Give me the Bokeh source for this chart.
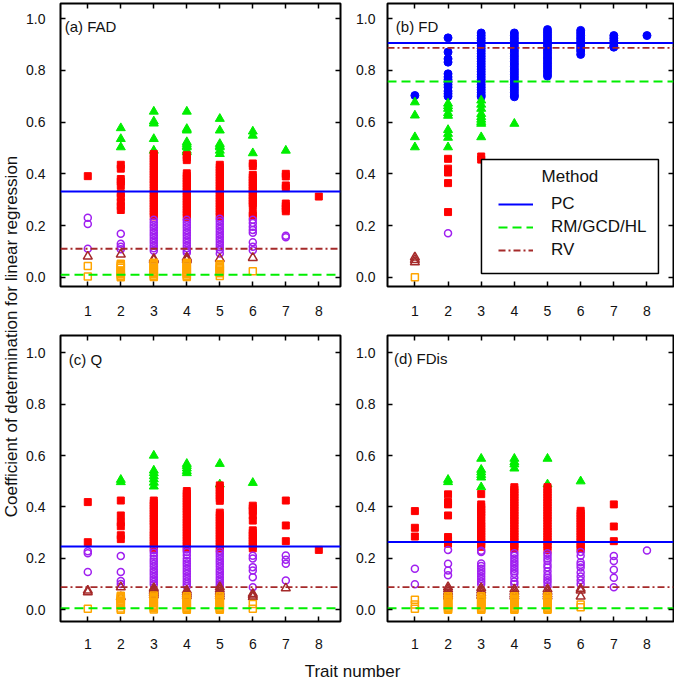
import math
from bokeh.plotting import figure
from bokeh.layouts import row, column
from bokeh.models import (Range1d, FixedTicker, LinearAxis, Label,
                          Legend, LegendItem, BoxAnnotation)
from bokeh.core.properties import value
from bokeh.embed import file_html
from bokeh.resources import INLINE

FONT = "Liberation Sans"

trait_ticks = [1, 2, 3, 4, 5, 6, 7, 8]
r2_ticks = [0.0, 0.2, 0.4, 0.6, 0.8, 1.0]
r2_labels = ["0.0", "0.2", "0.4", "0.6", "0.8", "1.0"]
method_names = ["PC", "RM/GCD/HL", "RV"]
panel_titles = ["(a) FAD", "(b) FD", "(c) Q", "(d) FDis"]
x_title = "Trait number"
y_title = "Coefficient of determination for linear regression"

# reference lines per panel: PC, RM/GCD/HL, RV
fad_lines = [0.332, 0.009, 0.110]
fd_lines = [0.906, 0.757, 0.887]
q_lines = [0.246, 0.006, 0.088]
fdis_lines = [0.264, 0.006, 0.088]

# ---------------- (a) FAD ----------------
fad_blue = {}
fad_green = {2: [0.577, 0.535, 0.503], 3: [0.641, 0.603, 0.595, 0.535, 0.49],
             4: [0.641, 0.574, 0.568, 0.523, 0.516, 0.508, 0.503, 0.49, 0.484],
             5: [0.613, 0.568, 0.516, 0.508, 0.503, 0.49, 0.477], 6: [0.564, 0.548, 0.48], 7: [0.49]}
fad_red = {1: [0.391],
           2: [0.435, 0.42, 0.38, 0.37, 0.355, 0.325, 0.31, 0.29, 0.275, 0.26],
           3: [0.477, 0.468, 0.458, 0.448, 0.438, 0.428, 0.418, 0.408, 0.398, 0.388, 0.378, 0.368, 0.358,
               0.345, 0.335, 0.325, 0.315, 0.305, 0.295, 0.285, 0.275, 0.265, 0.255, 0.245, 0.235],
           4: [0.472, 0.463, 0.453, 0.402, 0.392, 0.382, 0.372, 0.362, 0.352, 0.342, 0.332, 0.322, 0.312,
               0.302, 0.292, 0.282, 0.272, 0.262, 0.252, 0.242, 0.232],
           5: [0.435, 0.425, 0.415, 0.405, 0.395, 0.385, 0.375, 0.365, 0.355, 0.345, 0.335, 0.325, 0.315,
               0.305, 0.295, 0.285, 0.275, 0.265, 0.255, 0.245, 0.235],
           6: [0.44, 0.43, 0.396, 0.386, 0.376, 0.366, 0.356, 0.346, 0.336, 0.326, 0.316, 0.306, 0.296,
               0.286, 0.276, 0.248, 0.238],
           7: [0.40, 0.39, 0.355, 0.345, 0.285, 0.275, 0.265, 0.255],
           8: [0.312]}
fad_purple = {1: [0.23, 0.206, 0.11], 2: [0.168, 0.129, 0.118, 0.108],
              3: [0.222, 0.212, 0.202, 0.192, 0.182, 0.172, 0.162, 0.152, 0.142, 0.132, 0.122, 0.112, 0.102],
              4: [0.222, 0.212, 0.202, 0.192, 0.182, 0.172, 0.162, 0.152, 0.142, 0.132, 0.122, 0.112, 0.102, 0.095],
              5: [0.226, 0.216, 0.206, 0.196, 0.186, 0.176, 0.166, 0.156, 0.146, 0.136, 0.126, 0.116, 0.106, 0.092],
              6: [0.222, 0.21, 0.195, 0.183, 0.172, 0.135, 0.118, 0.104],
              7: [0.16, 0.155]}
fad_brown = {1: [0.08], 2: [0.088], 3: [0.071, 0.066], 4: [0.076, 0.071, 0.066], 5: [0.071], 6: [0.075]}
fad_orange = {1: [0.043, 0.003],
              2: [0.052, 0.047, 0.042, 0.037, 0.026, 0.021, 0.016, 0.011, 0.006, 0.0],
              3: [0.056, 0.051, 0.046, 0.041, 0.036, 0.031, 0.026, 0.021, 0.016, 0.011, 0.006, 0.001],
              4: [0.056, 0.051, 0.046, 0.041, 0.036, 0.031, 0.026, 0.021, 0.016, 0.011, 0.006, 0.001],
              5: [0.05, 0.045, 0.04, 0.035, 0.03, 0.025, 0.02, 0.015, 0.005], 6: [0.023]}

# ---------------- (b) FD ----------------
fd_blue = {1: [0.703],
           2: [0.926, 0.871, 0.845, 0.832, 0.787, 0.775, 0.765, 0.755, 0.745, 0.735, 0.72, 0.71, 0.70],
           3: [0.945, 0.935, 0.925, 0.915, 0.905, 0.895, 0.885, 0.875, 0.865, 0.855, 0.845, 0.835, 0.825,
               0.815, 0.805, 0.795, 0.785, 0.775, 0.765, 0.755, 0.745, 0.735, 0.725, 0.715, 0.705, 0.698],
           4: [0.945, 0.935, 0.925, 0.915, 0.905, 0.895, 0.885, 0.875, 0.865, 0.855, 0.845, 0.835, 0.825,
               0.815, 0.805, 0.795, 0.785, 0.775, 0.765, 0.755, 0.745, 0.735, 0.725, 0.715, 0.705, 0.698],
           5: [0.958, 0.948, 0.938, 0.928, 0.918, 0.908, 0.898, 0.888, 0.878, 0.868, 0.858, 0.848, 0.838,
               0.828, 0.818, 0.808, 0.798, 0.788, 0.778],
           6: [0.955, 0.945, 0.935, 0.925, 0.915, 0.905, 0.895, 0.885, 0.875, 0.862],
           7: [0.935, 0.925, 0.915, 0.905, 0.895, 0.89],
           8: [0.935]}
fd_green = {1: [0.677, 0.626, 0.542, 0.503],
            2: [0.672, 0.662, 0.652, 0.635, 0.625, 0.57, 0.555, 0.54, 0.503],
            3: [0.684, 0.668, 0.652, 0.632, 0.62, 0.61, 0.601, 0.594, 0.542],
            4: [0.594]}
fd_red = {2: [0.458, 0.42, 0.405, 0.364, 0.252], 3: [0.467, 0.455]}
fd_purple = {2: [0.17]}
fd_brown = {1: [0.077, 0.067, 0.058]}
fd_orange = {1: [0.0]}

# ---------------- (c) Q ----------------
q_blue = {}
q_green = {2: [0.506, 0.497], 3: [0.60, 0.542, 0.532, 0.52, 0.508, 0.495, 0.48],
           4: [0.568, 0.56, 0.55, 0.54, 0.532], 5: [0.568, 0.488], 6: [0.494]}
q_red = {1: [0.419, 0.263],
         2: [0.425, 0.367, 0.34, 0.325, 0.29, 0.275],
         3: [0.425, 0.415, 0.405, 0.395, 0.385, 0.375, 0.365, 0.355, 0.345, 0.335, 0.325, 0.31, 0.30,
             0.29, 0.28, 0.27, 0.26, 0.25, 0.24],
         4: [0.462, 0.452, 0.442, 0.432, 0.422, 0.412, 0.402, 0.392, 0.382, 0.372, 0.36, 0.35, 0.34,
             0.33, 0.32, 0.31, 0.30, 0.29, 0.28, 0.27, 0.26, 0.25, 0.24],
         5: [0.484, 0.474, 0.464, 0.454, 0.444, 0.434, 0.424, 0.378, 0.368, 0.358, 0.348, 0.338, 0.328,
             0.318, 0.308, 0.298, 0.288, 0.278, 0.268, 0.258, 0.248, 0.238],
         6: [0.405, 0.395, 0.385, 0.367, 0.347, 0.309, 0.299, 0.289, 0.279, 0.269, 0.259, 0.249, 0.239],
         7: [0.425, 0.328, 0.267],
         8: [0.233]}
q_purple = {1: [0.228, 0.22, 0.147], 2: [0.209, 0.147, 0.112, 0.10],
            3: [0.232, 0.222, 0.21, 0.198, 0.188, 0.178, 0.168, 0.158, 0.148, 0.138, 0.128, 0.118, 0.108, 0.098],
            4: [0.235, 0.225, 0.212, 0.2, 0.19, 0.18, 0.17, 0.16, 0.15, 0.14, 0.13, 0.12, 0.11, 0.1, 0.092],
            5: [0.228, 0.218, 0.208, 0.198, 0.188, 0.178, 0.168, 0.158, 0.148, 0.138, 0.128, 0.118, 0.108, 0.098, 0.09],
            6: [0.21, 0.2, 0.166, 0.153, 0.127, 0.088],
            7: [0.211, 0.195, 0.179, 0.114]}
q_brown = {1: [0.075, 0.069], 2: [0.088, 0.05], 3: [0.085, 0.078, 0.071, 0.064, 0.057],
           4: [0.075, 0.068, 0.061, 0.054], 5: [0.088, 0.079, 0.07, 0.061, 0.052],
           6: [0.062, 0.056, 0.05], 7: [0.084]}
q_orange = {1: [0.004],
            2: [0.055, 0.05, 0.045, 0.04, 0.035, 0.03, 0.025, 0.02, 0.015, 0.005, 0.0],
            3: [0.056, 0.051, 0.046, 0.041, 0.036, 0.031, 0.026, 0.021, 0.016, 0.011, 0.006, 0.001],
            4: [0.053, 0.048, 0.043, 0.038, 0.033, 0.028, 0.023, 0.018, 0.013, 0.008, 0.003, 0.0],
            5: [0.053, 0.048, 0.043, 0.038, 0.033, 0.028, 0.023, 0.018, 0.013, 0.008, 0.003, 0.0],
            6: [0.023, 0.004]}

# ---------------- (d) FDis ----------------
fdis_blue = {}
fdis_green = {2: [0.506, 0.497], 3: [0.588, 0.545, 0.535, 0.525, 0.515, 0.477],
              4: [0.588, 0.575, 0.566, 0.55], 5: [0.588, 0.488], 6: [0.5]}
fdis_red = {1: [0.384, 0.319, 0.285],
            2: [0.449, 0.419, 0.41, 0.367, 0.283, 0.27, 0.257],
            3: [0.45, 0.41, 0.40, 0.39, 0.38, 0.37, 0.36, 0.345, 0.335, 0.325, 0.315, 0.305, 0.295,
                0.285, 0.275, 0.265, 0.255, 0.245],
            4: [0.477, 0.467, 0.457, 0.447, 0.437, 0.427, 0.417, 0.407, 0.397, 0.387, 0.377, 0.367, 0.357,
                0.347, 0.337, 0.327, 0.315, 0.305, 0.295, 0.285, 0.275, 0.265, 0.255, 0.245, 0.237],
            5: [0.477, 0.467, 0.457, 0.447, 0.437, 0.427, 0.417, 0.407, 0.397, 0.387, 0.377, 0.367, 0.357,
                0.347, 0.337, 0.325, 0.315, 0.305, 0.295, 0.285, 0.275, 0.265, 0.255, 0.245, 0.232],
            6: [0.385, 0.375, 0.365, 0.355, 0.345, 0.335, 0.325, 0.315, 0.305, 0.295, 0.285, 0.275, 0.265,
                0.255, 0.245, 0.237],
            7: [0.41, 0.324, 0.267]}
fdis_purple = {1: [0.16, 0.099], 2: [0.233, 0.179, 0.153, 0.134],
               3: [0.23, 0.225, 0.18, 0.17, 0.16, 0.15, 0.14, 0.13, 0.12, 0.11, 0.10],
               4: [0.22, 0.21, 0.2, 0.19, 0.18, 0.17, 0.16, 0.15, 0.14, 0.125, 0.11, 0.1],
               5: [0.22, 0.21, 0.2, 0.19, 0.175, 0.165, 0.15, 0.135, 0.125, 0.115, 0.105, 0.092],
               6: [0.225, 0.21, 0.185, 0.175, 0.165, 0.145, 0.13, 0.115, 0.1],
               7: [0.209, 0.19, 0.156, 0.125, 0.088],
               8: [0.231]}
fdis_brown = {2: [0.088, 0.08, 0.07, 0.06, 0.052], 3: [0.085, 0.075, 0.065, 0.055],
              4: [0.08, 0.07, 0.06, 0.052], 5: [0.08, 0.07, 0.06, 0.052], 6: [0.082, 0.075, 0.052]}
fdis_orange = {1: [0.039, 0.021, 0.004],
               2: [0.053, 0.048, 0.043, 0.038, 0.033, 0.028, 0.023, 0.018, 0.013, 0.008, 0.003, 0.0],
               3: [0.053, 0.048, 0.043, 0.038, 0.033, 0.028, 0.023, 0.018, 0.013, 0.008, 0.003, 0.0],
               4: [0.053, 0.048, 0.043, 0.038, 0.033, 0.028, 0.023, 0.018, 0.013, 0.008, 0.003, 0.0],
               5: [0.053, 0.048, 0.043, 0.038, 0.033, 0.028, 0.023, 0.018, 0.013, 0.008, 0.003, 0.0],
               6: [0.021, 0.01]}

# ---------------- styling ----------------
BLUE, GREEN, RED = "#0000FF", "#00EE00", "#FF0000"
PURPLE, BROWN, ORANGE = "#A020F0", "#A52A2A", "#FFA500"
LINE_STYLES = [(BLUE, "solid", 2), (GREEN, "9 5", 2), (BROWN, "7 3 2 3", 1.8)]
TEXT = "#111111"


def flatten(series):
    xs = [t for t, vals in series.items() for _ in vals]
    ys = [v for vals in series.values() for v in vals]
    return xs, ys


def make_panel(title, series, lines, xr, yr, width, height, borders, title_pos, standoff_x, standoff_y):
    bl, br, bt, bb = borders
    p = figure(width=width, height=height, x_range=Range1d(*xr), y_range=Range1d(*yr),
               output_backend="svg", toolbar_location=None,
               min_border_left=bl, min_border_right=br, min_border_top=bt, min_border_bottom=bb,
               background_fill_color="white", border_fill_color="white")
    p.xgrid.visible = False
    p.ygrid.visible = False
    p.outline_line_color = "black"
    p.outline_line_width = 2
    ax_b = p.below[0]
    ax_l = p.left[0]
    ax_b.ticker = FixedTicker(ticks=trait_ticks)
    ax_l.ticker = FixedTicker(ticks=r2_ticks)
    ax_l.major_label_overrides = {t: lab for t, lab in zip(r2_ticks, r2_labels)}
    ax_b.major_label_standoff = standoff_x
    ax_l.major_label_standoff = standoff_y
    for ax in [ax_b, ax_l]:
        ax.major_label_text_font = FONT
        ax.major_label_text_font_size = "14px"
        ax.major_label_text_color = TEXT
    ax_r = LinearAxis(ticker=FixedTicker(ticks=r2_ticks))
    ax_t = LinearAxis(ticker=FixedTicker(ticks=trait_ticks))
    for ax in [ax_r, ax_t]:
        ax.major_label_text_font_size = "1px"
        ax.major_label_text_color = None
        ax.major_label_standoff = 0
    p.add_layout(ax_r, "right")
    p.add_layout(ax_t, "above")
    for ax in [ax_b, ax_l, ax_r, ax_t]:
        ax.axis_line_color = None
        ax.major_tick_in = 5
        ax.major_tick_out = 0
        ax.major_tick_line_width = 1.5
        ax.major_tick_line_color = "black"
        ax.minor_tick_line_color = None

    blue, green, red, purple, brown, orange = series
    x, y = flatten(blue)
    p.scatter(x, y, marker="circle", size=8, fill_color=BLUE, line_color=BLUE)
    x, y = flatten(green)
    p.scatter(x, y, marker="triangle", size=9, fill_color=GREEN, line_color=GREEN)
    x, y = flatten(red)
    p.scatter(x, y, marker="square", size=7, fill_color=RED, line_color=RED)
    x, y = flatten(purple)
    p.scatter(x, y, marker="circle", size=7, fill_color=None, line_color=PURPLE, line_width=1.5)
    x, y = flatten(brown)
    p.scatter(x, y, marker="triangle", size=9, fill_color=None, line_color=BROWN, line_width=1.5)
    x, y = flatten(orange)
    p.scatter(x, y, marker="square", size=7, fill_color=None, line_color=ORANGE, line_width=1.5)

    line_renderers = []
    for v, (c, d, w) in zip(lines, LINE_STYLES):
        line_renderers.append(p.line(x=list(xr), y=[v, v], line_color=c, line_dash=d, line_width=w))

    p.add_layout(Label(x=title_pos[0], y=title_pos[1], text=title, text_font=FONT,
                       text_font_size="15px", text_color=TEXT, text_align="left",
                       text_baseline="middle"))
    return p, line_renderers


W_A, W_B = 321, 331
H_TOP, H_BOT = 328, 327
XR_A = (0.173, 8.657)
XR_B = (0.174, 8.80)
YR_TOP = (-0.036, 1.059)
YR_BOT = (-0.0455, 1.067)

pa, _ = make_panel(panel_titles[0], [fad_blue, fad_green, fad_red, fad_purple, fad_brown, fad_orange],
                   fad_lines, XR_A, YR_TOP, W_A, H_TOP, (38, 3, 3, 42), (0.30, 0.970), 19, 15)
pb, pb_lines = make_panel(panel_titles[1], [fd_blue, fd_green, fd_red, fd_purple, fd_brown, fd_orange],
                          fd_lines, XR_B, YR_TOP, W_B, H_TOP, (44, 1, 3, 42), (0.424, 0.970), 19, 12)
pc, _ = make_panel(panel_titles[2], [q_blue, q_green, q_red, q_purple, q_brown, q_orange],
                   q_lines, XR_A, YR_BOT, W_A, H_BOT, (38, 3, 7, 34), (0.424, 0.973), 17, 15)
pd, _ = make_panel(panel_titles[3], [fdis_blue, fdis_green, fdis_red, fdis_purple, fdis_brown, fdis_orange],
                   fdis_lines, XR_B, YR_BOT, W_B, H_BOT, (44, 1, 7, 34), (0.373, 0.976), 17, 12)

# legend in panel (b)
pb.add_layout(BoxAnnotation(left=3.008, right=8.346, bottom=0.014, top=0.455, fill_color="white",
                            fill_alpha=1.0, line_color="black", line_width=1.5, line_alpha=1.0))
legend = Legend(items=[LegendItem(label=n, renderers=[r]) for n, r in zip(method_names, pb_lines)],
                location=(111, 26), border_line_color=None, background_fill_alpha=0.0,
                padding=0, margin=0, spacing=3, glyph_width=35, glyph_height=20,
                label_height=20, label_standoff=18, label_text_font=FONT,
                label_text_font_size="17px", label_text_color=TEXT)
pb.add_layout(legend)
pb.add_layout(Label(x=5.677, y=0.39, text="Method", text_font=FONT, text_font_size="17px",
                    text_color=TEXT, text_align="center", text_baseline="middle"))

# y-axis title
H_ALL = H_TOP + H_BOT + 24
ylab = figure(width=22, height=H_ALL, x_range=Range1d(0, 1), y_range=Range1d(0, H_ALL),
              output_backend="svg", toolbar_location=None, x_axis_location=None,
              y_axis_location=None, min_border=0, outline_line_color=None)
ylab.grid.visible = False
ylab.text(x=[0.5], y=[H_ALL - 336], text=[y_title], angle=math.pi / 2, text_align="center",
          text_baseline="middle", text_font=value(FONT), text_font_size=value("17px"),
          text_color=TEXT)

# x-axis title
xlab = figure(width=W_A + W_B, height=24, x_range=Range1d(0, W_A + W_B), y_range=Range1d(0, 24),
              output_backend="svg", toolbar_location=None, x_axis_location=None,
              y_axis_location=None, min_border=0, outline_line_color=None)
xlab.grid.visible = False
xlab.text(x=[330], y=[8.5], text=[x_title], text_align="center", text_baseline="middle",
          text_font=value(FONT), text_font_size=value("17px"), text_color=TEXT)

layout = row(ylab, column(row(pa, pb), row(pc, pd), xlab))

open("out.html", "w").write(file_html(layout, INLINE))
